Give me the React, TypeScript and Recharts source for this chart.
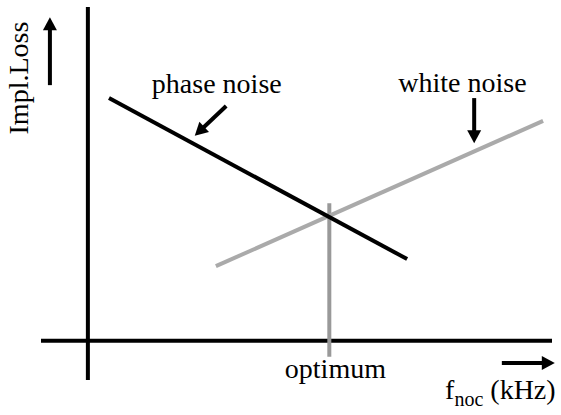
import React from 'react';
import { ComposedChart, Line, XAxis, YAxis, ReferenceLine, ReferenceDot } from 'recharts';

// schematic units: axes cross at (0, 0)
const phaseNoise = [{ x: 0.45, y: 6.18 }, { x: 6.81, y: 2.08 }];
const whiteNoise = [{ x: 2.73, y: 1.9 }, { x: 9.71, y: 5.6 }];
const optimum = [{ x: 5.15, y: 3.5 }, { x: 5.15, y: -0.41 }];

const labels = [
  { text: 'phase noise', x: 2.75, y: 6.31 },
  { text: 'white noise', x: 7.99, y: 6.33 },
  { text: 'optimum', x: 5.28, y: -0.95 },
];

// arrows: from -> tip
const arrows = [
  { from: { x: -0.81, y: 6.51 }, to: { x: -0.81, y: 8.24 } },
  { from: { x: 8.83, y: -0.57 }, to: { x: 9.96, y: -0.57 } },
  { from: { x: 8.24, y: 6.18 }, to: { x: 8.24, y: 5.03 } },
  { from: { x: 2.95, y: 5.98 }, to: { x: 2.28, y: 5.22 } },
];

const yTitle = { text: 'Impl.Loss', x: -1.28, y: 6.69 };
const xTitle = { x: 7.62, y: -1.49 };

const FONT = '"Liberation Serif", "Times New Roman", serif';

const Arrow = (p: any) => {
  const { x1, y1, x2, y2 } = p;
  const dx = x2 - x1;
  const dy = y2 - y1;
  const len = Math.sqrt(dx * dx + dy * dy) || 1;
  const ux = dx / len;
  const uy = dy / len;
  const head = 13;
  const hw = 7;
  const bx = x2 - ux * head;
  const by = y2 - uy * head;
  const pts = `${x2},${y2} ${bx - uy * hw},${by + ux * hw} ${bx + uy * hw},${by - ux * hw}`;
  return (
    <g>
      <line x1={x1} y1={y1} x2={bx + ux} y2={by + uy} stroke="#000" strokeWidth={4} />
      <polygon points={pts} fill="#000" />
    </g>
  );
};

export default function App() {
  return (
    <div style={{ position: 'absolute', left: 0, top: 0, background: '#fff' }}>
      <ComposedChart width={561} height={415} margin={{ top: 7, right: 9, bottom: 35, left: 41 }}>
        <XAxis type="number" dataKey="x" domain={[-1, 9.9]} hide allowDataOverflow />
        <YAxis type="number" dataKey="y" domain={[-1, 8.5]} hide allowDataOverflow />
        <ReferenceLine x={0} stroke="#000" strokeWidth={4} />
        <ReferenceLine y={0} stroke="#000" strokeWidth={4} />
        <Line data={optimum} dataKey="y" stroke="#999" strokeWidth={4} dot={false} isAnimationActive={false} />
        <Line data={whiteNoise} dataKey="y" stroke="#aaa" strokeWidth={4} dot={false} isAnimationActive={false} />
        <Line data={phaseNoise} dataKey="y" stroke="#000" strokeWidth={4} dot={false} isAnimationActive={false} />
        {arrows.map((a, i) => (
          <ReferenceLine
            key={`arrow-${i}`}
            segment={[a.from, a.to]}
            ifOverflow="visible"
            shape={(p: any) => <Arrow {...p} />}
          />
        ))}
        {labels.map((l) => (
          <ReferenceDot
            key={l.text}
            x={l.x}
            y={l.y}
            r={0}
            ifOverflow="visible"
            shape={(p: any) => (
              <text x={p.cx} y={p.cy} textAnchor="middle" fontFamily={FONT} fontSize={28} fill="#000">
                {l.text}
              </text>
            )}
          />
        ))}
        <ReferenceDot
          x={yTitle.x}
          y={yTitle.y}
          r={0}
          ifOverflow="visible"
          shape={(p: any) => (
            <text
              x={p.cx}
              y={p.cy}
              textAnchor="middle"
              fontFamily={FONT}
              fontSize={28}
              fill="#000"
              transform={`rotate(-90 ${p.cx} ${p.cy})`}
            >
              {yTitle.text}
            </text>
          )}
        />
        <ReferenceDot
          x={xTitle.x}
          y={xTitle.y}
          r={0}
          ifOverflow="visible"
          shape={(p: any) => (
            <text x={p.cx} y={p.cy} textAnchor="start" fontFamily={FONT} fontSize={28} fill="#000">
              f
              <tspan fontSize={20} dy={7}>noc</tspan>
              <tspan dy={-7}> (kHz)</tspan>
            </text>
          )}
        />
      </ComposedChart>
    </div>
  );
}
